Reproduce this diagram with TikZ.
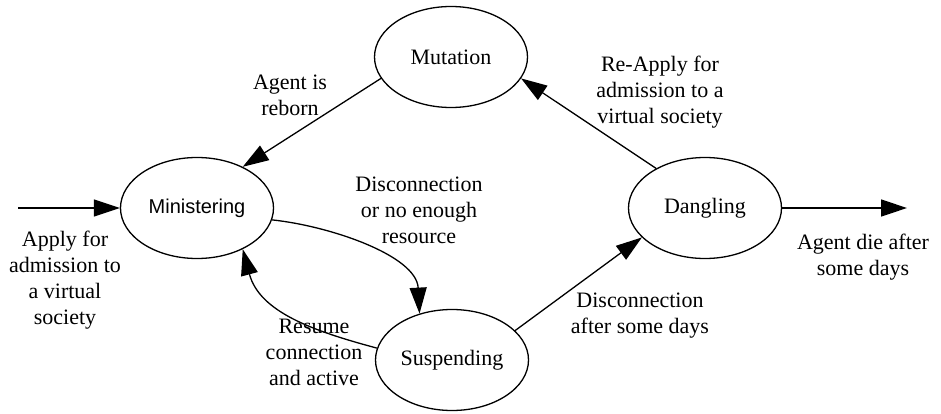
\documentclass[tikz,border=0pt]{standalone}
\usepackage{fontspec}
\setmainfont{Liberation Serif}
\newfontfamily\arialfont{Liberation Sans}
\usetikzlibrary{shapes.geometric,arrows.meta}
\tikzset{
  state/.style={draw, ellipse, line width=1.3pt, minimum width=153pt, minimum height=101pt,
    inner sep=0pt, font=\fontsize{22}{26}\selectfont},
  lbl/.style={align=center, inner sep=0pt, font=\fontsize{22}{26}\selectfont},
  flow/.style={line width=1.3pt, -{Triangle[length=26pt,width=17pt]}},
}
\begin{document}
\begin{tikzpicture}[x=1pt,y=1pt]
\useasboundingbox (0,0) rectangle (941,413);
% states
\node[state] (min) at (197,205) {\arialfont\fontsize{20}{24}\selectfont Ministering};
\node[state] (mut) at (451,356) {Mutation};
\node[state] (sus) at (452,53) {Suspending};
\node[state] (dan) at (705,205) {Dangling};
% open ends
\coordinate (start) at (18,205);
\coordinate (stop) at (907,205);
% transitions
\draw[flow] (start) -- (min.west);
\draw[flow] (dan.east) -- (stop);
\draw[flow] (mut.197) -- (min.42);
\draw[flow] (dan.141) -- (mut.-17);
\draw[flow] (sus.25) -- (dan.205);
\draw[flow] (min.-9) to[out=-6, in=93, looseness=0.85] (sus.125);
\draw[flow] (sus.171) to[out=165, in=-75, looseness=1.0] (min.-42);
% labels
\node[lbl] (l1) at (290,318) {Agent is\\reborn};
\node[lbl] (l2) at (419,203) {Disconnection\\or no enough\\resource};
\node[lbl] (l3) at (660,321) {Re-Apply for\\admission to a\\virtual society};
\node[lbl] (l4) at (863,156) {Agent die after\\some days};
\node[lbl] (l5) at (65,133) {Apply for\\admission to\\a virtual\\society};
\node[lbl] (l6) at (314,61) {Resume\\connection\\and active};
\node[lbl] (l7) at (640,97) {Disconnection\\after some days};
\end{tikzpicture}
\end{document}
